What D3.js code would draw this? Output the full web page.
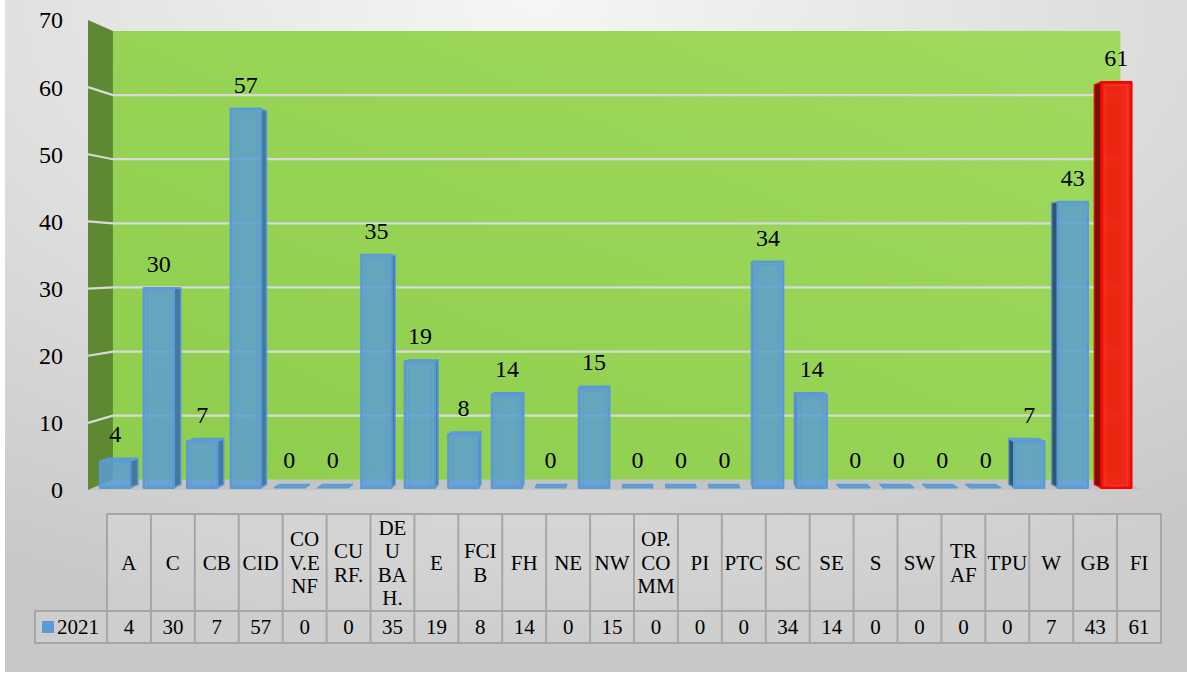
<!DOCTYPE html>
<html><head><meta charset="utf-8">
<script src="https://cdnjs.cloudflare.com/ajax/libs/d3/7.8.5/d3.min.js"></script>
<style>body{margin:0;background:#fff;} svg{display:block;}</style>
</head><body><svg id="c" width="1187" height="673"></svg>
<script>
// ---- data ----
const categories = ["A","C","CB","CID","CO\nV.E\nNF","CU\nRF.","DE\nU\nBA\nH.","E","FCI\nB","FH","NE","NW","OP.\nCO\nMM","PI","PTC","SC","SE","S","SW","TR\nAF","TPU","W","GB","FI"];
const values2021 = [4,30,7,57,0,0,35,19,8,14,0,15,0,0,0,34,14,0,0,0,0,7,43,61];
const seriesName = "2021";
const yTicks = [0,10,20,30,40,50,60,70];
const highlightCategory = "FI";

// ---- layout ----
const FONT = '"Liberation Serif"';
const svg = d3.select("#c");
const W = 1187, H = 673;
const defs = svg.append("defs");
const bg = defs.append("radialGradient").attr("id","bg").attr("cx","45%").attr("cy","0%").attr("r","95%");
bg.append("stop").attr("offset","0%").attr("stop-color","#f6f6f6");
bg.append("stop").attr("offset","100%").attr("stop-color","#c8c8c8");
const wallG = defs.append("linearGradient").attr("id","wall").attr("x1","0").attr("y1","1").attr("x2","1").attr("y2","0");
wallG.append("stop").attr("offset","0%").attr("stop-color","#8fcd4d");
wallG.append("stop").attr("offset","100%").attr("stop-color","#9edb5e");

svg.append("rect").attr("x",5).attr("y",0).attr("width",W-5).attr("height",672).attr("fill","url(#bg)");

const x = d3.scaleBand().domain(d3.range(categories.length)).range([88,1143]).paddingInner(0.31).paddingOuter(0.155);
const y = d3.scaleLinear().domain([0,70]).range([490,20]);
const vx = 643, vy = 264;
function P(X, Y, t){ const s = 1 - 0.045*t; return [vx + s*(X-vx), vy + s*(Y-vy)]; }
const line = pts => "M" + pts.map(p=>p.join(",")).join("L") + "Z";

// walls
const X0 = x.range()[0], X1 = x.range()[1];
svg.append("path").attr("d", line([P(X0,y(70),0),P(X0,y(70),1),P(X0,y(0),1),P(X0,y(0),0)])).attr("fill","#5f8832");
svg.append("path").attr("d", line([P(X0,y(70),1),P(X1,y(70),1),P(X1,y(0),1),P(X0,y(0),1)])).attr("fill","url(#wall)");
// floor
svg.append("path").attr("d", line([P(X0,y(0),0),P(X0,y(0),1),P(X1,y(0),1),P(X1,y(0),0)])).attr("fill","#c4c4c4");

// gridlines
yTicks.filter(v=>v>0 && v<70).forEach(v=>{
  const a=P(X0,y(v),0), b=P(X0,y(v),1), c=P(X1,y(v),1);
  svg.append("path").attr("d","M"+a+"L"+b+"L"+c).attr("fill","none").attr("stroke","#d9d9d9").attr("stroke-width",2.2);
});

// y labels
svg.append("g").selectAll("text").data(yTicks).join("text")
  .attr("x",63).attr("y",d=>y(d)).attr("dy","0.35em").attr("text-anchor","end")
  .style("font-family",FONT).attr("font-size",24).text(d=>d);

// bars
const tf = 0.22, tb = 0.55;
const bw = x.bandwidth();
const gBars = svg.append("g");
values2021.forEach((v,i)=>{
  const red = categories[i]===highlightCategory;
  const c = red ? {front:"#f2180c",op:0.92,stroke:"#ff0000",sideR:"#8a1a0c",sideL:"#6a1608",top:"#ff3a2a"} :
                  {front:"#5b9bd5",op:0.82,stroke:"#5b9bd5",sideR:"#45789e",sideL:"#33566a",top:"#5b9bd5"};
  const a0 = x(i), a1 = x(i)+bw, b0 = y(0), b1 = y(v);
  const g = gBars.append("g");
  const fTL=P(a0,b1,tf), fTR=P(a1,b1,tf), fBR=P(a1,b0,tf), fBL=P(a0,b0,tf);
  const bTL=P(a0,b1,tb), bTR=P(a1,b1,tb), bBR=P(a1,b0,tb), bBL=P(a0,b0,tb);
  const center = a0 + bw/2;
  if (center < vx) {
    g.append("path").attr("d",line([fTR,bTR,bBR,fBR])).attr("fill",c.sideR).attr("stroke",c.stroke).attr("stroke-width",1.5).attr("stroke-linejoin","round");
  } else {
    g.append("path").attr("d",line([fTL,bTL,bBL,fBL])).attr("fill",c.sideL).attr("stroke",c.stroke).attr("stroke-width",1.5).attr("stroke-linejoin","round");
  }
  if (b1 > vy) {
    g.append("path").attr("d",line([fTL,fTR,bTR,bTL])).attr("fill",c.top).attr("fill-opacity",0.9).attr("stroke",c.stroke).attr("stroke-width",1.5).attr("stroke-linejoin","round");
  }
  if (v>0) {
    g.append("path").attr("d",line([fTL,fTR,fBR,fBL])).attr("fill",c.front).attr("fill-opacity",c.op).attr("stroke",c.stroke).attr("stroke-width",2.5).attr("stroke-linejoin","round");
    const iL=P(a0+4,b1+3,tf), iR=P(a1-4,b1+3,tf), iRB=P(a1-4,b0-2,tf), iLB=P(a0+4,b0-2,tf);
    g.append("path").attr("d",line([iL,iR,iRB,iLB])).attr("fill","none").attr("stroke",red?"rgba(255,60,50,0.6)":"rgba(91,155,213,0.6)").attr("stroke-width",1.2);
  }
  const topY = Math.min(fTL[1], bTL[1]);
  svg.append("text").attr("x",(fTL[0]+fTR[0])/2).attr("y",topY-16).attr("text-anchor","middle")
    .style("font-family",FONT).attr("font-size",24).text(v);
});

// data table
const tx0 = 107, tx1 = 1161, hy0 = 514, hy1 = 611, dy1 = 643, lx0 = 35;
const cw = (tx1-tx0)/categories.length;
const tg = svg.append("g");
const bc = "#a6a6a6";
tg.append("rect").attr("x",tx0).attr("y",hy0).attr("width",tx1-tx0).attr("height",hy1-hy0).attr("fill","rgba(255,255,255,0.12)").attr("stroke",bc).attr("stroke-width",2);
tg.append("rect").attr("x",lx0).attr("y",hy1).attr("width",tx1-lx0).attr("height",dy1-hy1).attr("fill","rgba(255,255,255,0.12)").attr("stroke",bc).attr("stroke-width",2);
categories.forEach((cat,i)=>{
  if (i>0) tg.append("line").attr("x1",tx0+i*cw).attr("x2",tx0+i*cw).attr("y1",hy0).attr("y2",dy1).attr("stroke",bc).attr("stroke-width",2);
  const lines = cat.split("\n");
  const lh = 23.5, cy = (hy0+hy1)/2;
  const t = tg.append("text").attr("text-anchor","middle").attr("font-size",21).style("font-family",FONT);
  lines.forEach((ln,k)=>{
    t.append("tspan").attr("x",tx0+(i+0.5)*cw).attr("y",cy + (k-(lines.length-1)/2)*lh).attr("dy","0.35em").text(ln);
  });
  tg.append("text").attr("x",tx0+(i+0.5)*cw).attr("y",(hy1+dy1)/2).attr("dy","0.35em").attr("text-anchor","middle").attr("font-size",21).style("font-family",FONT).text(values2021[i]);
});
tg.append("line").attr("x1",tx0).attr("x2",tx0).attr("y1",hy0).attr("y2",dy1).attr("stroke",bc).attr("stroke-width",2);
tg.append("rect").attr("x",42).attr("y",621).attr("width",12).attr("height",12).attr("fill","#5b9bd5");
tg.append("text").attr("x",57).attr("y",(hy1+dy1)/2).attr("dy","0.35em").attr("font-size",21).style("font-family",FONT).text(seriesName);
</script></body></html>
